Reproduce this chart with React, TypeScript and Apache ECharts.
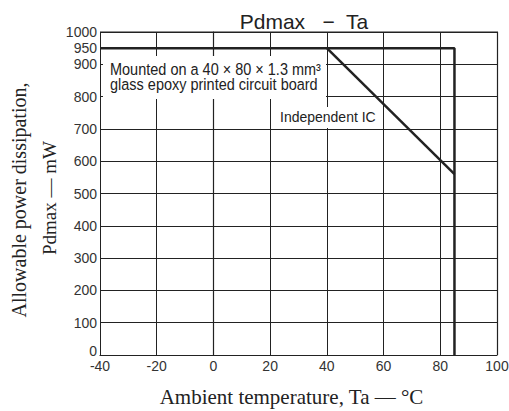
import React, { useEffect, useRef } from "react";
import * as echarts from "echarts";

const boardTa = [-40, 85, 85];
const boardPd = [950, 950, 0];
const icTa = [40, 85];
const icPd = [950, 560];
const yLabels = [100, 200, 300, 400, 500, 600, 700, 800, 900, 950, 1000];
const xTicks = [-40, -20, 0, 20, 40, 60, 80, 100];

export default function App() {
  const ref = useRef<HTMLDivElement>(null);
  useEffect(() => {
    const chart = echarts.init(ref.current!, null, { renderer: "svg" });
    const sans = "Liberation Sans, Arial, sans-serif";
    const serif = "Liberation Serif, Times New Roman, serif";
    chart.setOption({
      animation: false,
      backgroundColor: "#fff",
      title: {
        text: "Pdmax   −  Ta",
        left: 299,
        top: 6,
        textAlign: "center",
        textStyle: { fontFamily: sans, fontSize: 21, fontWeight: "normal", color: "#222" },
      },
      grid: { left: 100, right: 12, top: 32, bottom: 56, outerBoundsMode: "none", containLabel: false },
      xAxis: {
        type: "value",
        min: -40,
        max: 100,
        interval: 20,
        axisLine: { show: true, onZero: false, lineStyle: { color: "#222", width: 1.2 } },
        axisTick: { show: false },
        axisLabel: {
          fontFamily: sans,
          fontSize: 14,
          color: "#333",
          margin: 4,
          formatter: (v: number) => (xTicks.includes(v) ? String(v) : ""),
        },
        splitLine: { show: true, lineStyle: { color: "#222", width: 1 } },
        name: "Ambient temperature, Ta — °C",
        nameLocation: "middle",
        nameGap: 31,
        nameTextStyle: { fontFamily: serif, fontSize: 21, color: "#222", padding: [0, 14, 0, 0] },
      },
      yAxis: [
        {
          type: "value",
          min: 0,
          max: 1000,
          interval: 50,
          axisLine: { show: true, lineStyle: { color: "#222", width: 1.2 } },
          axisTick: { show: false },
          axisLabel: {
            fontFamily: sans,
            fontSize: 14,
            color: "#333",
            margin: 3,
            formatter: (v: number) => (yLabels.includes(v) ? String(v) : ""),
          },
          splitLine: { show: false },
        },
        {
          type: "value",
          min: 0,
          max: 1000,
          interval: 100,
          position: "left",
          axisLine: { show: false },
          axisTick: { show: false },
          axisLabel: { show: false },
          splitLine: { show: true, lineStyle: { color: "#222", width: 1 } },
        },
      ],
      graphic: [
        {
          type: "rect",
          shape: { x: 497.5, y: 32, width: 0, height: 323 },
          style: { stroke: "#222", lineWidth: 1.2, fill: "none" },
        },
        {
          type: "rect",
          shape: { x: 100, y: 32, width: 398, height: 0 },
          style: { stroke: "#222", lineWidth: 1.2, fill: "none" },
        },
        {
          type: "text",
          x: 97,
          y: 351,
          style: {
            text: "0",
            fontFamily: sans,
            fontSize: 14,
            fill: "#333",
            align: "right",
            verticalAlign: "middle",
          },
        },
        {
          type: "rect",
          z: 10,
          shape: { x: 103, y: 56, width: 223, height: 43 },
          style: { fill: "#fff" },
        },
        {
          type: "text",
          z: 11,
          x: 110,
          y: 61,
          scaleY: 1.12,
          style: {
            text: "Mounted on a 40 × 80 × 1.3 mm³\nglass epoxy printed circuit board",
            fontFamily: sans,
            fontSize: 14.5,
            lineHeight: 14,
            fill: "#222",
          },
        },
        {
          type: "rect",
          z: 10,
          shape: { x: 276, y: 107, width: 105, height: 21 },
          style: { fill: "#fff" },
        },
        {
          type: "text",
          z: 11,
          x: 280,
          y: 109,
          scaleY: 1.08,
          style: { text: "Independent IC", fontFamily: sans, fontSize: 14, fill: "#222" },
        },
        {
          type: "text",
          x: 19,
          y: 200,
          rotation: Math.PI / 2,
          style: {
            text: "Allowable power dissipation,",
            fontFamily: serif,
            fontSize: 20,
            fill: "#222",
            align: "center",
            verticalAlign: "middle",
          },
        },
        {
          type: "text",
          x: 49,
          y: 198,
          rotation: Math.PI / 2,
          style: {
            text: "Pdmax — mW",
            fontFamily: serif,
            fontSize: 19,
            fill: "#222",
            align: "center",
            verticalAlign: "middle",
          },
        },
      ],
      series: [
        {
          type: "line",
          data: boardTa.map((t, i) => [t, boardPd[i]]),
          symbol: "none",
          z: 12,
          lineStyle: { color: "#222", width: 2.5 },
        },
        {
          type: "line",
          data: icTa.map((t, i) => [t, icPd[i]]),
          symbol: "none",
          z: 12,
          lineStyle: { color: "#222", width: 2.5 },
        },
      ],
    });
    return () => chart.dispose();
  }, []);
  return <div ref={ref} style={{ width: 509, height: 411, position: "absolute", left: 0, top: 0 }} />;
}
